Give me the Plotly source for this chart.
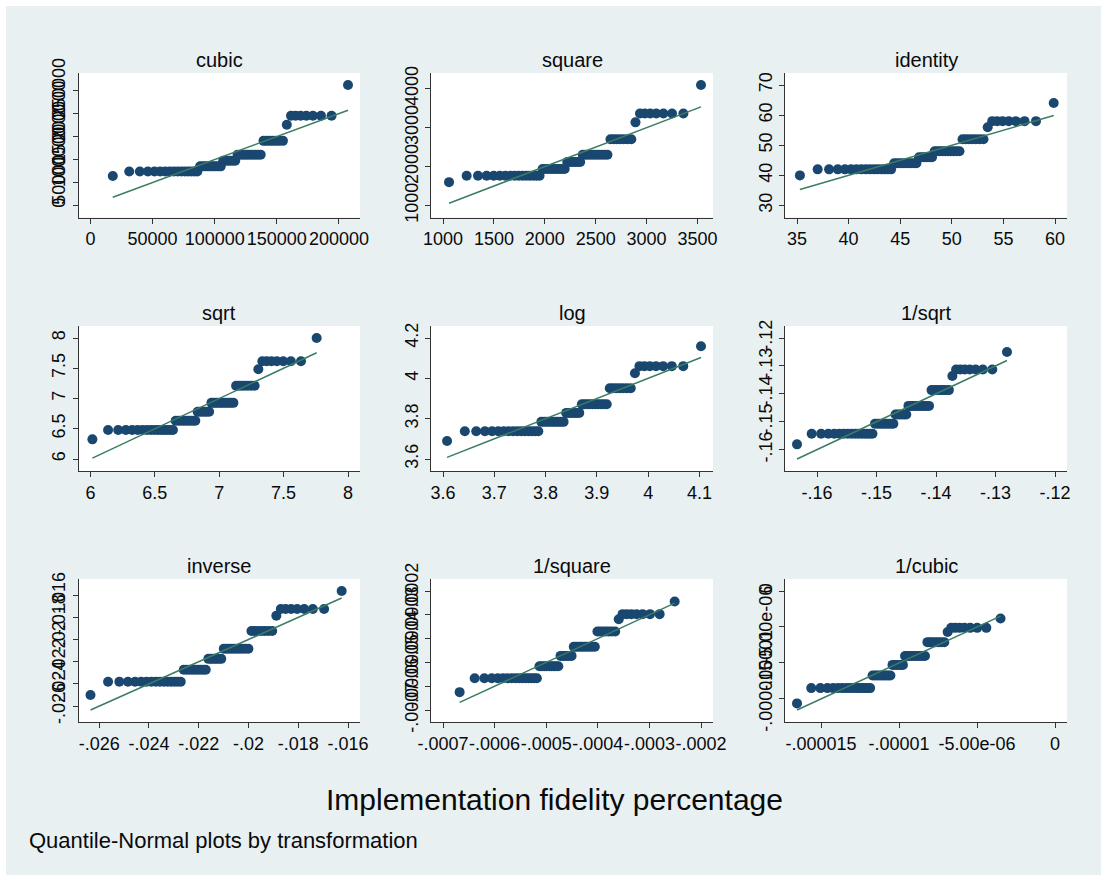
import math
from statistics import NormalDist, fmean, stdev

import plotly.graph_objects as go

W, H = 1101, 875

# Implementation fidelity scores (percent) and the number of observations at each score
fidelity_values = [40, 42, 44, 46, 48, 52, 56, 58, 64]
fidelity_counts = [1, 15, 9, 6, 10, 7, 1, 7, 1]

# ladder of powers, in display order
panel_names = ["cubic", "square", "identity",
               "sqrt", "log", "1/sqrt",
               "inverse", "1/square", "1/cubic"]

ladder = {
    "cubic": lambda v: v ** 3,
    "square": lambda v: v ** 2,
    "identity": lambda v: v,
    "sqrt": math.sqrt,
    "log": math.log,
    "1/sqrt": lambda v: -1 / math.sqrt(v),
    "inverse": lambda v: -1 / v,
    "1/square": lambda v: -1 / v ** 2,
    "1/cubic": lambda v: -1 / v ** 3,
}

# axis ticks for each panel
cubic_x_ticks = [0, 50000, 100000, 150000, 200000]
cubic_y_ticks = [0, 50000, 100000, 150000, 200000, 250000]
square_x_ticks = [1000, 1500, 2000, 2500, 3000, 3500]
square_y_ticks = [1000, 2000, 3000, 4000]
identity_x_ticks = [35, 40, 45, 50, 55, 60]
identity_y_ticks = [30, 40, 50, 60, 70]
sqrt_ticks = [6, 6.5, 7, 7.5, 8]
log_x_ticks = [3.6, 3.7, 3.8, 3.9, 4, 4.1]
log_y_ticks = [3.6, 3.8, 4, 4.2]
inv_sqrt_ticks = [-.16, -.15, -.14, -.13, -.12]
inverse_ticks = [-.026, -.024, -.022, -.02, -.018, -.016]
inv_square_ticks = [-.0007, -.0006, -.0005, -.0004, -.0003, -.0002]
inv_cubic_ticks = [-.000015, -.00001, -.000005, 0]
inv_cubic_tick_labels = ["-.000015", "-.00001", "-5.00e-06", "0"]


def stata_label(v):
    s = f"{v:g}"
    if s.startswith("-0."):
        s = "-" + s[2:]
    elif s.startswith("0."):
        s = s[1:]
    return s


def labels(ticks):
    return [stata_label(t) for t in ticks]


panel_ticks = {
    "cubic": (cubic_x_ticks, labels(cubic_x_ticks), cubic_y_ticks, labels(cubic_y_ticks)),
    "square": (square_x_ticks, labels(square_x_ticks), square_y_ticks, labels(square_y_ticks)),
    "identity": (identity_x_ticks, labels(identity_x_ticks), identity_y_ticks, labels(identity_y_ticks)),
    "sqrt": (sqrt_ticks, labels(sqrt_ticks), sqrt_ticks, labels(sqrt_ticks)),
    "log": (log_x_ticks, labels(log_x_ticks), log_y_ticks, labels(log_y_ticks)),
    "1/sqrt": (inv_sqrt_ticks, labels(inv_sqrt_ticks), inv_sqrt_ticks, labels(inv_sqrt_ticks)),
    "inverse": (inverse_ticks, labels(inverse_ticks), inverse_ticks, labels(inverse_ticks)),
    "1/square": (inv_square_ticks, labels(inv_square_ticks), inv_square_ticks, labels(inv_square_ticks)),
    "1/cubic": (inv_cubic_ticks, inv_cubic_tick_labels, inv_cubic_ticks, inv_cubic_tick_labels),
}

# plot-region boxes in pixels
col_left = [78.5, 431, 785]
col_right = [360, 713, 1067]
row_top = [73, 326, 579]
row_bottom = [217.5, 471, 722]
PAD = 12

BG = "#E8F0F2"
NAVY = "#1A476F"
GREEN = "#3A7D62"
AXIS = "#333333"
TEXT = "#0A0A0A"
FONT = "Liberation Sans, Arial, Helvetica, sans-serif"

fig = go.Figure()
layout = dict(
    width=W, height=H, autosize=False,
    margin=dict(l=0, r=0, t=0, b=0, pad=0),
    paper_bgcolor=BG,
    plot_bgcolor="white",
    showlegend=False,
    font=dict(family=FONT, color=TEXT),
)
annotations = []
nd = NormalDist()

for k, name in enumerate(panel_names):
    r, c = divmod(k, 3)
    f = ladder[name]
    obs = sorted(f(v) for v, n in zip(fidelity_values, fidelity_counts) for _ in range(n))
    n = len(obs)
    m, s = fmean(obs), stdev(obs)
    q = [m + s * nd.inv_cdf(i / (n + 1)) for i in range(1, n + 1)]

    xt, xl, yt, yl = panel_ticks[name]
    left, right, top, bottom = col_left[c], col_right[c], row_top[r], row_bottom[r]

    xlo, xhi = min(xt[0], q[0]), max(xt[-1], q[-1])
    ylo, yhi = min(yt[0], obs[0], q[0]), max(yt[-1], obs[-1], q[-1])
    xpad = PAD * (xhi - xlo) / ((right - left) - 2 * PAD)
    ypad = PAD * (yhi - ylo) / ((bottom - top) - 2 * PAD)

    sfx = "" if k == 0 else str(k + 1)
    fig.add_trace(go.Scatter(
        x=q, y=obs, mode="markers", xaxis="x" + sfx, yaxis="y" + sfx,
        marker=dict(color=NAVY, size=10, line=dict(width=0)),
        hoverinfo="skip",
    ))
    fig.add_trace(go.Scatter(
        x=[q[0], q[-1]], y=[q[0], q[-1]], mode="lines",
        xaxis="x" + sfx, yaxis="y" + sfx,
        line=dict(color=GREEN, width=1.5), hoverinfo="skip",
    ))

    common = dict(
        showline=True, linecolor=AXIS, linewidth=1,
        ticks="outside", ticklen=5, tickwidth=1, tickcolor=AXIS,
        showgrid=False, zeroline=False, automargin=False,
        tickfont=dict(family=FONT, size=18, color=TEXT),
    )
    layout["xaxis" + sfx] = dict(
        common,
        domain=[left / W, right / W],
        anchor="y" + sfx,
        range=[xlo - xpad, xhi + xpad],
        tickmode="array", tickvals=xt, ticktext=xl, tickangle=0,
    )
    layout["yaxis" + sfx] = dict(
        common,
        domain=[1 - bottom / H, 1 - top / H],
        anchor="x" + sfx,
        range=[ylo - ypad, yhi + ypad],
        tickmode="array", tickvals=yt, ticktext=yl, tickangle=-90,
    )
    annotations.append(dict(
        text=name, xref="paper", yref="paper",
        x=(left + right) / 2 / W, y=1 - (top - 13) / H,
        xanchor="center", yanchor="middle", showarrow=False,
        font=dict(family=FONT, size=20, color=TEXT),
    ))

annotations.append(dict(
    text="Implementation fidelity percentage", xref="paper", yref="paper",
    x=554 / W, y=1 - 799 / H, xanchor="center", yanchor="middle", showarrow=False,
    font=dict(family=FONT, size=30, color=TEXT),
))
annotations.append(dict(
    text="Quantile-Normal plots by transformation", xref="paper", yref="paper",
    x=27 / W, y=1 - 840 / H, xanchor="left", yanchor="middle", showarrow=False,
    font=dict(family=FONT, size=22, color=TEXT),
))

layout["annotations"] = annotations
layout["shapes"] = [
    dict(type="rect", xref="paper", yref="paper", x0=0, x1=1, y0=1 - 6 / H, y1=1,
         fillcolor="white", line=dict(width=0), layer="below"),
    dict(type="rect", xref="paper", yref="paper", x0=0, x1=6 / W, y0=0, y1=1,
         fillcolor="white", line=dict(width=0), layer="below"),
]
fig.update_layout(**layout)
fig.write_html("out.html")
